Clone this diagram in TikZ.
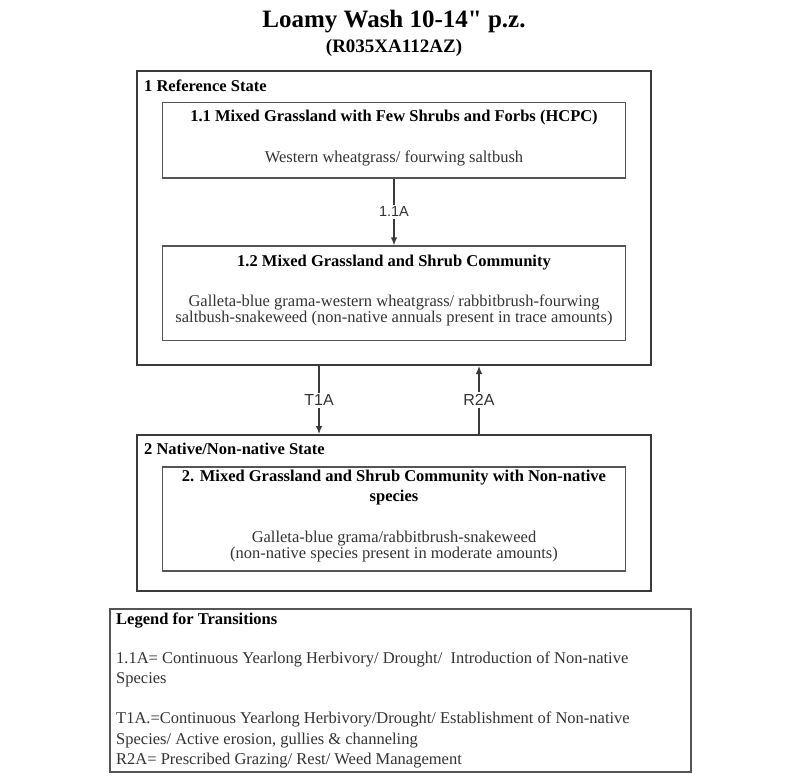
\documentclass[tikz,border=0pt]{standalone}
\usepackage{fontspec}
\setmainfont{Liberation Serif}
\newfontfamily\plainserif{Liberation Serif}[Ligatures=TeXOff]
\newfontfamily\labfont{Liberation Sans}
\usetikzlibrary{arrows.meta}
\definecolor{edge}{HTML}{3A3A3A}
\definecolor{inedge}{HTML}{555555}
\definecolor{txt}{HTML}{333333}
\begin{document}
\begin{tikzpicture}[x=1pt,y=-1pt,
  statebox/.style={draw=edge, line width=2pt, inner sep=0pt},
  combox/.style={draw=inedge, line width=1.4pt, inner sep=0pt},
  legbox/.style={draw=inedge, line width=1.4pt, inner sep=0pt},
  ttl/.style={font=\fontsize{16.5}{20}\selectfont\bfseries, text=black, align=center, inner sep=0pt},
  body/.style={font=\fontsize{16.5}{15}\selectfont, text=txt, align=center, inner sep=0pt},
  hdr/.style={font=\fontsize{16.5}{18}\selectfont\bfseries, text=black, anchor=west, inner sep=0pt},
  leg/.style={font=\fontsize{16.5}{20.2}\selectfont, text=txt, align=left, anchor=west, inner sep=0pt},
  trans/.style={draw=edge, line width=1.1pt, -{Latex[length=8pt,width=6.5pt]}},
  tlab/.style={font=\labfont\fontsize{16}{17}\selectfont, text=txt, fill=white, inner sep=2pt}
]
\useasboundingbox (0,0) rectangle (800,777);
\fill[white] (0,0) rectangle (800,777);

% title
\node[font=\plainserif\fontsize{25}{28}\selectfont\bfseries, inner sep=0pt] (title) at (394,22) {Loamy Wash 10-14" p.z.};
\node[font=\fontsize{19}{21}\selectfont\bfseries, inner sep=0pt] (subtitle) at (394,48) {(R035XA112AZ)};

% state 1
\node[statebox, minimum width=514pt, minimum height=294pt] (s1) at (394,218) {};
\node[hdr] (s1h) at (144,86) {1 Reference State};
\node[combox, minimum width=463pt, minimum height=75.5pt] (b11) at (394,140.25) {};
\node[ttl] (b11t) at (394,118) {1.1 Mixed Grassland with Few Shrubs and Forbs (HCPC)};
\node[body] (b11b) at (394,158) {Western wheatgrass/ fourwing saltbush};
\node[combox, minimum width=463pt, minimum height=94.7pt] (b12) at (394,293.3) {};
\node[ttl] (b12t) at (394,263) {1.2 Mixed Grassland and Shrub Community};
\node[body] (b12b) at (394,310) {Galleta-blue grama-western wheatgrass/ rabbitbrush-fourwing\\saltbush-snakeweed (non-native annuals present in trace amounts)};

% state 2
\node[statebox, minimum width=514pt, minimum height=156pt] (s2) at (394,513) {};
\node[hdr] (s2h) at (144,449) {2 Native/Non-native State};
\node[combox, minimum width=463pt, minimum height=104pt] (b2) at (394,519) {};
\node[ttl] (b2t) at (394,488) {2. Mixed Grassland and Shrub Community with Non-native\\species};
\node[body] (b2b) at (394,546.5) {Galleta-blue grama/rabbitbrush-snakeweed\\(non-native species present in moderate amounts)};

% transitions
\draw[trans] (b11.south) -- node[tlab, font=\labfont\fontsize{14.5}{16}\selectfont] (l11a) {1.1A} (b12.north);
\draw[trans] ([xshift=-75pt]s1.south) -- node[tlab] (lt1a) {T1A} ([xshift=-75pt]s2.north);
\draw[trans] ([xshift=85pt]s2.north) -- node[tlab] (lr2a) {R2A} ([xshift=85pt]s1.south);

% legend
\node[legbox, minimum width=581pt, minimum height=163pt] (leg) at (400.5,690.5) {};
\node[hdr] (legh) at (116,620) {Legend for Transitions};
\node[leg] (leg1) at (116,669.5) {1.1A= Continuous Yearlong Herbivory/ Drought/\ \ Introduction of Non-native\\Species};
\node[leg] (leg2) at (116,740) {T1A.=Continuous Yearlong Herbivory/Drought/ Establishment of Non-native\\Species/ Active erosion, gullies \& channeling\\R2A= Prescribed Grazing/ Rest/ Weed Management};
\end{tikzpicture}
\end{document}
